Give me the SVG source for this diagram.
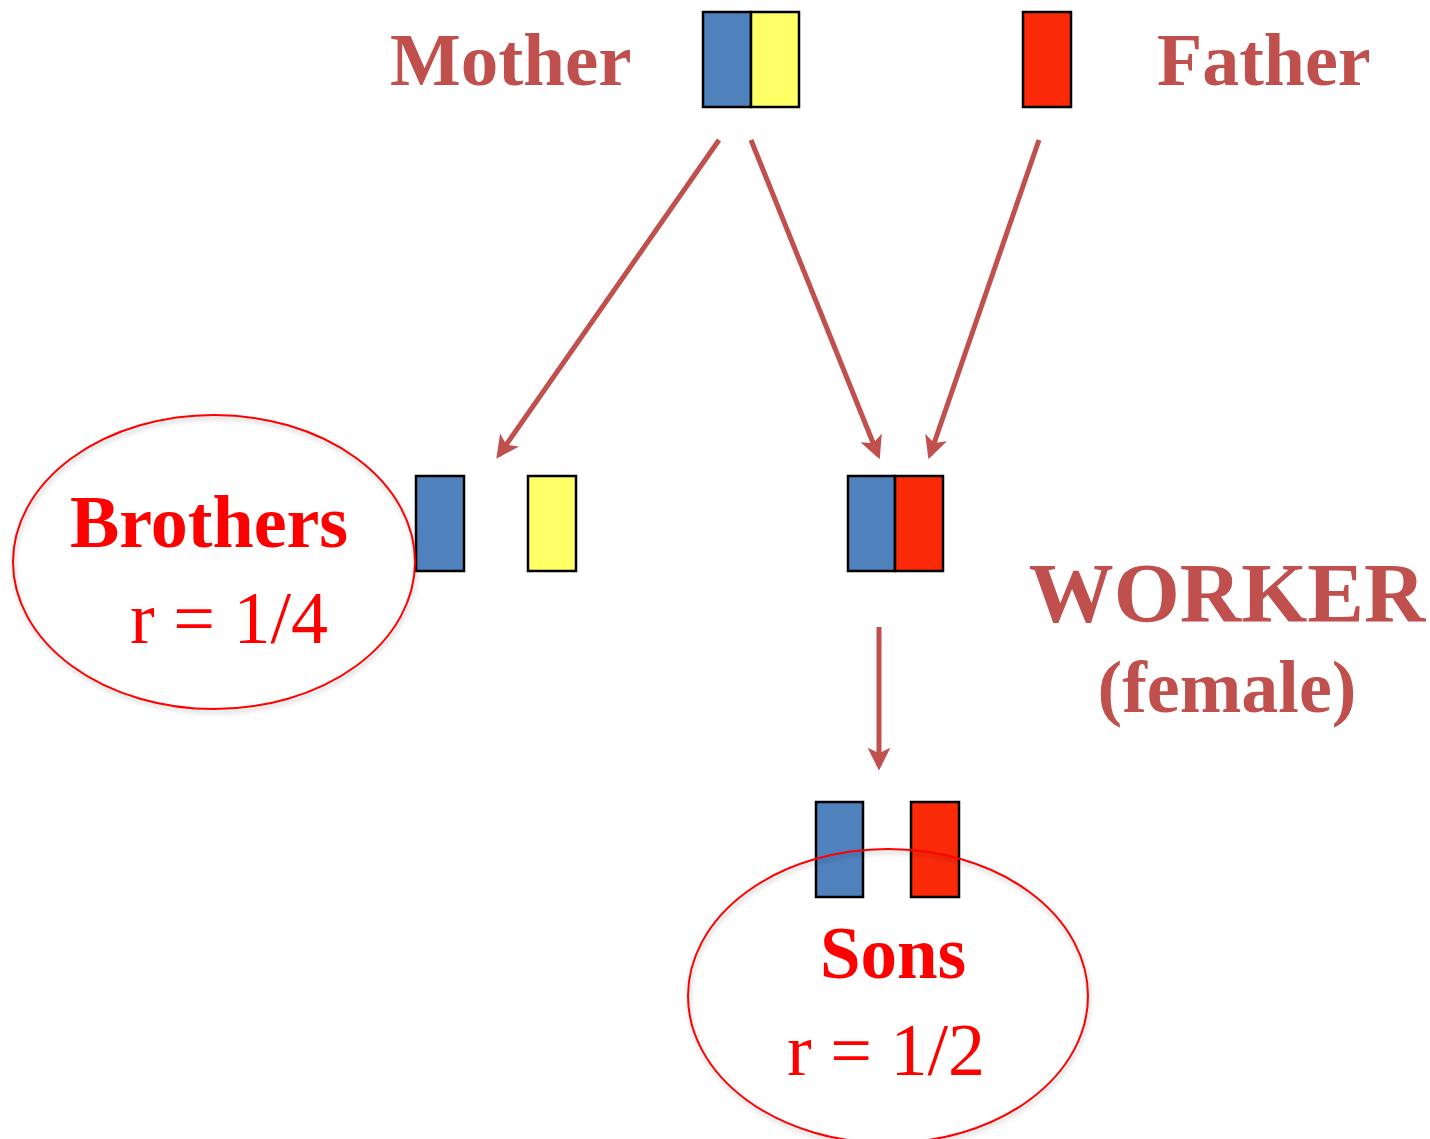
<svg xmlns="http://www.w3.org/2000/svg" width="1430" height="1139" viewBox="0 0 1430 1139">
  <style>
    .lbl { font-family: "Liberation Serif", "Times New Roman", serif; font-weight: bold; fill: #c0504d; }
    .grp { font-family: "Liberation Serif", "Times New Roman", serif; fill: #ff0000; }
    .chrom { stroke: #000; stroke-width: 2.5; }
    .blue { fill: #4f81bd; }
    .yellow { fill: #ffff66; }
    .red { fill: #fa2a08; }
    .ring { fill: none; stroke: #ff0000; stroke-width: 2; }
    .link { stroke: #c0504d; stroke-width: 5; fill: none; marker-end: url(#head); }
  </style>
  <defs>
    <marker id="head" viewBox="0 0 10 10" refX="8" refY="5" markerWidth="4.6" markerHeight="4.6" orient="auto" markerUnits="strokeWidth">
      <path d="M0,0 L10,5 L0,10 L2.5,5 Z" fill="#c0504d"/>
    </marker>
    <filter id="soft" x="-10%" y="-10%" width="120%" height="120%">
      <feGaussianBlur stdDeviation="2"/>
    </filter>
  </defs>
  <rect width="1430" height="1139" fill="#fff"/>

  <g id="connectors">
    <line class="link" x1="719" y1="140" x2="499" y2="455"/>
    <line class="link" x1="751" y1="140" x2="878" y2="455"/>
    <line class="link" x1="1039" y1="140" x2="930" y2="455"/>
    <line class="link" x1="879" y1="627" x2="879" y2="766"/>
  </g>

  <g id="mother">
    <text class="lbl" x="390" y="85" font-size="75">Mother</text>
    <rect class="chrom blue" x="703" y="12" width="48" height="95"/>
    <rect class="chrom yellow" x="751" y="12" width="48" height="95"/>
  </g>

  <g id="father">
    <rect class="chrom red" x="1023" y="12" width="48" height="95"/>
    <text class="lbl" x="1157" y="85" font-size="74">Father</text>
  </g>

  <g id="brothers">
    <rect class="chrom blue" x="416" y="476" width="48" height="95"/>
    <rect class="chrom yellow" x="528" y="476" width="48" height="95"/>
    <ellipse cx="214" cy="562" rx="201" ry="147" fill="none" stroke="#000" stroke-opacity="0.12" stroke-width="4" filter="url(#soft)" transform="translate(1,3)"/>
    <ellipse class="ring" cx="214" cy="562" rx="201" ry="147"/>
    <text class="grp" x="70" y="547" font-size="74" font-weight="bold">Brothers</text>
    <text class="grp" x="130" y="643" font-size="74">r = 1/4</text>
  </g>

  <g id="worker">
    <rect class="chrom blue" x="848" y="476" width="47" height="95"/>
    <rect class="chrom red" x="895" y="476" width="48" height="95"/>
    <text class="lbl" x="1227" y="622" font-size="85" text-anchor="middle">WORKER</text>
    <text class="lbl" x="1227" y="712" font-size="74" text-anchor="middle">(female)</text>
  </g>

  <g id="sons">
    <rect class="chrom blue" x="816" y="802" width="47" height="95"/>
    <rect class="chrom red" x="911" y="802" width="48" height="95"/>
    <ellipse cx="888" cy="996" rx="200" ry="147" fill="none" stroke="#000" stroke-opacity="0.12" stroke-width="4" filter="url(#soft)" transform="translate(1,3)"/>
    <ellipse class="ring" cx="888" cy="996" rx="200" ry="147"/>
    <text class="grp" x="820" y="978" font-size="73" font-weight="bold">Sons</text>
    <text class="grp" x="787" y="1075" font-size="74">r = 1/2</text>
  </g>
</svg>
